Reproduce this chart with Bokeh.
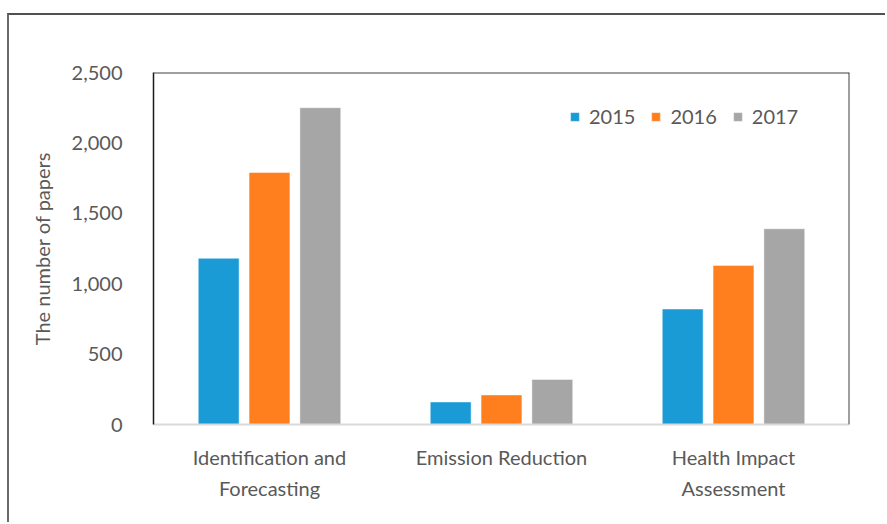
from bokeh.plotting import figure
from bokeh.models import (ColumnDataSource, FactorRange, FixedTicker, NumeralTickFormatter,
                          Span, Legend, LegendItem)
from bokeh.transform import dodge
from bokeh.embed import file_html
from bokeh.resources import INLINE

# Research areas and the number of papers per year
categories = ["Identification and\nForecasting", "Emission Reduction", "Health Impact\nAssessment"]
years = ["2015", "2016", "2017"]
papers_2015 = [1180, 160, 820]
papers_2016 = [1790, 210, 1130]
papers_2017 = [2250, 320, 1390]
y_ticks = [0, 500, 1000, 1500, 2000, 2500]

colors = ["#1a9bd6", "#ff7f1e", "#a6a6a6"]
FONT = "Lato"
TEXT = "#595959"

source = ColumnDataSource(dict(cat=categories, y2015=papers_2015,
                               y2016=papers_2016, y2017=papers_2017))

# page border drawn on the top and left edges of the plot element
p = figure(width=878, height=509, output_backend="svg", toolbar_location=None,
           x_range=FactorRange(*categories, range_padding=0), y_range=(0, 2500),
           min_border_left=144, min_border_right=38, min_border_top=57, min_border_bottom=100)
p.margin = (13, 0, 0, 7)
p.styles = {"border-top": "2px solid #505050", "border-left": "2px solid #6a6a6a"}
p.outline_line_color = None
p.background_fill_color = "white"
p.border_fill_color = "white"

bar_w = 0.176
offsets = [-0.219, 0.0, 0.219]
renderers = []
for yr, col, off in zip(years, colors, offsets):
    r = p.vbar(x=dodge("cat", off, range=p.x_range), top="y" + yr, width=bar_w,
               source=source, fill_color=col, line_color="white", line_alpha=0.45, line_width=1)
    renderers.append(r)

# axes
p.xgrid.grid_line_color = None
p.ygrid.grid_line_color = None

p.yaxis.ticker = FixedTicker(ticks=y_ticks)
p.yaxis.formatter = NumeralTickFormatter(format="0,0")
p.yaxis.major_tick_line_color = None
p.yaxis.minor_tick_line_color = None
p.yaxis.axis_line_color = "#1a1a1a"
p.yaxis.axis_line_width = 1.5
p.yaxis.major_label_standoff = 25
p.yaxis.major_label_text_font = FONT
p.yaxis.major_label_text_font_size = "20px"
p.yaxis.major_label_text_color = TEXT
p.yaxis.axis_label = "The number of papers"
p.yaxis.axis_label_text_font = FONT
p.yaxis.axis_label_text_font_size = "20px"
p.yaxis.axis_label_text_font_style = "normal"
p.yaxis.axis_label_text_color = TEXT
p.yaxis.axis_label_standoff = 15

p.xaxis.major_tick_line_color = None
p.xaxis.minor_tick_line_color = None
p.xaxis.axis_line_color = "#d9d9d9"
p.xaxis.axis_line_width = 2
p.xaxis.major_label_standoff = 14
p.xaxis.major_label_text_font = FONT
p.xaxis.major_label_text_font_size = "20px"
p.xaxis.major_label_text_color = TEXT
p.xaxis.major_label_text_line_height = 1.3

# frame edges on top and right
p.add_layout(Span(location=2500, dimension="width", line_color="#404040", line_width=2))
p.add_layout(Span(location=3, dimension="height", line_color="#404040", line_width=2))

legend = Legend(items=[LegendItem(label=yr, renderers=[r]) for yr, r in zip(years, renderers)],
                orientation="horizontal", location=(416, 296),
                glyph_width=11, glyph_height=11, label_standoff=9, spacing=15,
                padding=0, margin=0, border_line_color=None, background_fill_alpha=0,
                label_text_font=FONT, label_text_font_size="20px", label_text_color=TEXT)
p.add_layout(legend)

open("out.html", "w").write(file_html(p, INLINE))
